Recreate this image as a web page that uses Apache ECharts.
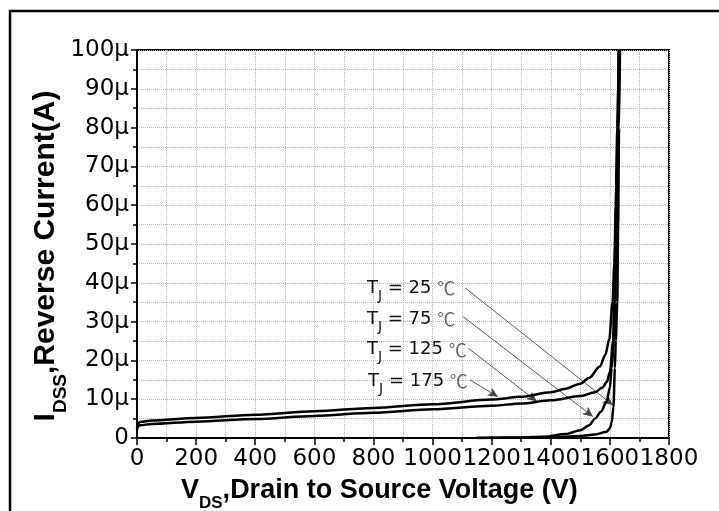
<!DOCTYPE html>
<html><head><meta charset="utf-8">
<script src="https://cdn.jsdelivr.net/npm/echarts@6/dist/echarts.min.js"></script>
<style>html,body{margin:0;padding:0;background:#fff}#c{width:719px;height:511px}</style>
</head><body><div id="c"></div>
<script>
// X tick values (V) and Y tick labels (A)
var xTicks = [0, 200, 400, 600, 800, 1000, 1200, 1400, 1600, 1800];
var yTickLabels = ['0', '10µ', '20µ', '30µ', '40µ', '50µ', '60µ', '70µ', '80µ', '90µ', '100µ'];

// Curves: [V_DS (V), I_DSS (µA)]
var curve175 = [[0,2.6],[3,3.6],[10,4.1],[50,4.5],[200,5.15],[400,6.0],[600,6.9],[800,7.75],[1000,8.7],[1200,9.9],[1300,10.6],[1400,11.8],[1450,12.7],[1500,14],[1530,15.5],[1566,18.4],[1585,21.5],[1598,25.5],[1609,35],[1615,45],[1620,60],[1625,80],[1630,100]];
var curve125 = [[0,2.2],[3,2.9],[10,3.3],[50,3.6],[200,4.2],[400,4.9],[600,5.7],[800,6.5],[1000,7.4],[1200,8.3],[1300,8.9],[1400,9.7],[1500,10.8],[1550,11.8],[1575,13],[1590,14.5],[1600,17],[1611,25],[1614,35],[1618,50],[1623,70],[1630,100]];
var curve75 = [[1150,0],[1200,0.05],[1300,0.15],[1375,0.35],[1450,1.0],[1500,2.0],[1530,3.3],[1550,5],[1570,6.8],[1589,9.4],[1600,13],[1606,18],[1614,25],[1618,35],[1621,50],[1626,75],[1632,100]];
var curve25 = [[1150,0],[1300,0.05],[1400,0.2],[1500,0.5],[1550,0.9],[1589,1.6],[1600,2.5],[1606,3.9],[1612,8],[1617,18],[1620,25],[1625,35],[1628,55],[1631,80],[1634,100]];

// Annotation labels: temperature, label position (V, µA), arrow start and end (V, µA)
var annoTemps = ['25', '75', '125', '175'];
var annoLabelPos = [[778,39.4],[778,31.4],[778,23.5],[782,15.5]];
var annoArrowFrom = [[1110,38.7],[1103,31.3],[1120,23.2],[1127,15.0]];
var annoArrowTo = [[1610,8.5],[1543,5.5],[1353,9.4],[1221,10.6]];

var chart = echarts.init(document.getElementById('c'));
var gridStyle = {show:true, lineStyle:{color:'#b8b8b8', width:1, type:'dotted'}};
function lineSeries(name, data){
  return {name:name, type:'line', data:data, showSymbol:false, symbol:'none',
    smooth:0.3, smoothMonotone:'x', lineStyle:{color:'#000', width:2.5}, z:5};
}
var markPts = annoTemps.map(function(t,i){
  return {coord:annoLabelPos[i], value:t};
});
var markLns = annoArrowFrom.map(function(f,i){
  return [{coord:f},{coord:annoArrowTo[i]}];
});
chart.setOption({
  animation:false,
  backgroundColor:'#fff',
  grid:{left:137, top:50, width:532, height:388, show:true, borderColor:'#000', borderWidth:2, containLabel:false},
  xAxis:{type:'value', min:0, max:1800, interval:200,
    axisLine:{show:true, onZero:false, lineStyle:{color:'#000', width:2}},
    axisTick:{show:true, inside:false, length:7, lineStyle:{color:'#000', width:1.5}},
    minorTick:{show:true, splitNumber:2, length:4, lineStyle:{color:'#000', width:1.5}},
    splitLine:gridStyle, minorSplitLine:gridStyle,
    axisLabel:{margin:10, color:'#000', fontFamily:'DejaVu Sans', fontSize:23,
      formatter:function(v){ return xTicks.indexOf(v) >= 0 ? String(v) : ''; }}
  },
  yAxis:{type:'value', min:0, max:100, interval:10,
    axisLine:{show:true, onZero:false, lineStyle:{color:'#000', width:2}},
    axisTick:{show:true, inside:false, length:6, lineStyle:{color:'#000', width:1.5}},
    minorTick:{show:true, splitNumber:2, length:4, lineStyle:{color:'#000', width:1.5}},
    splitLine:gridStyle, minorSplitLine:gridStyle,
    axisLabel:{margin:8, color:'#000', fontFamily:'DejaVu Sans', fontSize:23,
      formatter:function(v){ return yTickLabels[Math.round(v/10)]; }}
  },
  series:[
    lineSeries('175', curve175),
    lineSeries('125', curve125),
    lineSeries('75', curve75),
    lineSeries('25', curve25),
    {type:'line', data:[], silent:true,
      markLine:{silent:true, symbol:['none','arrow'], symbolSize:[7,10], precision:4,
        lineStyle:{color:'#444', width:0.9, type:'solid'}, label:{show:false},
        emphasis:{disabled:true}, data:markLns},
      markPoint:{silent:true, symbol:'circle', symbolSize:0,
        label:{show:true, position:'right', distance:0,
          formatter:function(p){ return '{t|T}{s|J}{t| = ' + p.value + ' }{c|℃}'; },
          rich:{
            t:{fontFamily:'DejaVu Sans', fontSize:18, color:'#111', lineHeight:24, verticalAlign:'bottom'},
            s:{fontFamily:'DejaVu Sans', fontSize:14, color:'#111', lineHeight:24, verticalAlign:'bottom', padding:[0,0,-6,0]},
            c:{fontFamily:'Noto Sans CJK SC', fontSize:18, color:'#666', lineHeight:24, verticalAlign:'bottom'}
          }},
        data:markPts}
    }
  ],
  graphic:[
    {type:'rect', shape:{x:10, y:11, width:720, height:520}, style:{fill:'none', stroke:'#000', lineWidth:2.5}, silent:true},
    {type:'text', x:181, y:489, style:{
      text:'{v|V}{s|DS}{v|,Drain to Source Voltage (V)}',
      verticalAlign:'middle', align:'left',
      rich:{
        v:{fontFamily:'Liberation Sans', fontWeight:'bold', fontSize:27, fill:'#000', lineHeight:30, verticalAlign:'bottom'},
        s:{fontFamily:'Liberation Sans', fontWeight:'bold', fontSize:17, fill:'#000', lineHeight:30, verticalAlign:'bottom', padding:[0,0,-8,0]}
      }}},
    {type:'text', x:45, y:256, rotation:Math.PI/2, style:{
      text:'{v|I}{s|DSS}{v|,Reverse Current(A)}',
      verticalAlign:'middle', align:'center',
      rich:{
        v:{fontFamily:'Liberation Sans', fontWeight:'bold', fontSize:30, fill:'#000', lineHeight:32, verticalAlign:'bottom'},
        s:{fontFamily:'Liberation Sans', fontWeight:'bold', fontSize:19, fill:'#000', lineHeight:32, verticalAlign:'bottom', padding:[0,0,-9,0]}
      }}}
  ]
});
</script></body></html>
